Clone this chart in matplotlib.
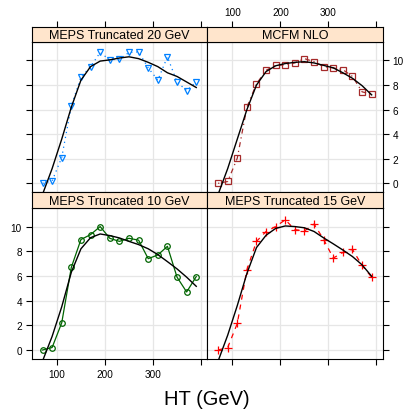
import numpy as np
import matplotlib.pyplot as plt

plt.rcParams['font.family'] = ['Liberation Sans', 'DejaVu Sans']

# HT bin centres (GeV)
ht = [70, 90, 110, 130, 150, 170, 190, 210, 230, 250, 270, 290, 310, 330, 350, 370, 390]

# points per panel
meps20 = [0.0, 0.2, 2.1, 6.3, 8.65, 9.5, 10.65, 10.05, 10.1, 10.65, 10.7, 9.4, 8.4, 10.3, 8.25, 7.55, 8.25]
mcfm = [0.0, 0.15, 2.05, 6.2, 8.1, 9.2, 9.6, 9.65, 9.8, 10.15, 9.9, 9.5, 9.4, 9.25, 8.7, 7.45, 7.25]
meps10 = [0.0, 0.2, 2.2, 6.7, 8.95, 9.35, 10.0, 9.05, 8.8, 9.05, 8.9, 7.4, 7.7, 8.4, 5.9, 4.7, 5.95]
meps15 = [0.0, 0.2, 2.15, 6.5, 8.8, 9.6, 10.0, 10.55, 9.75, 9.65, 10.2, 8.95, 7.45, 7.9, 8.15, 6.85, 5.9]

# smooth (loess) curves
fit20 = [-0.9, 1.2, 3.6, 6.2, 8.4, 9.5, 9.95, 10.05, 10.2, 10.3, 10.15, 9.85, 9.5, 9.0, 8.7, 8.25, 7.8]
fitmcfm = [-0.9, 1.2, 3.6, 6.0, 8.0, 9.1, 9.57, 9.75, 9.85, 9.9, 9.8, 9.6, 9.4, 9.0, 8.55, 7.95, 7.2]
fit10 = [-0.9, 1.1, 3.5, 6.3, 8.2, 9.1, 9.4, 9.27, 9.08, 8.8, 8.54, 8.2, 7.73, 7.16, 6.57, 5.9, 5.16]
fit15 = [-0.9, 1.2, 3.6, 6.2, 8.3, 9.3, 9.85, 10.05, 10.0, 9.9, 9.6, 9.08, 8.6, 8.1, 7.57, 6.9, 5.97]

xticks = [100, 200, 300, 400]
xticklabels = ['100', '200', '300', '']
yticks = [0, 2, 4, 6, 8, 10]

W, H = 406, 410


def rect(x0, x1, ytop, ybot):
    return [x0 / W, 1 - ybot / H, (x1 - x0) / W, (ybot - ytop) / H]


cols = [(31.7, 207.3), (207.3, 382.7)]
rows = {'top': ((27.7, 43.3), (43.3, 193.3)), 'bot': ((193.3, 209.3), (209.3, 360.0))}

# (title, row, col, points, fit, colour, marker, dashes, marker size)
panels = [
    ('MEPS Truncated 20 GeV', 'top', 0, meps20, fit20, '#0080ff', 'v', (1, 3), 5.0),
    ('MCFM NLO', 'top', 1, mcfm, fitmcfm, '#a52a2a', 's', (1, 3, 4, 3), 4.0),
    ('MEPS Truncated 10 GeV', 'bot', 0, meps10, fit10, '#006400', 'o', None, 4.0),
    ('MEPS Truncated 15 GeV', 'bot', 1, meps15, fit15, '#ff0000', '+', (4, 4), 6.0),
]

xlim = (47.5, 413)
ylim = (-0.73, 11.48)

fig = plt.figure(figsize=(4.06, 4.10), dpi=100)

for title, row, col, pts, fit, colr, mk, dash, ms in panels:
    (st, sb), (bt, bb) = rows[row]
    x0, x1 = cols[col]
    ax = fig.add_axes(rect(x0, x1, bt, bb))
    sx = fig.add_axes(rect(x0, x1, st, sb))

    ax.set_xlim(*xlim)
    ax.set_ylim(*ylim)
    for v in xticks:
        ax.axvline(v, color='#e6e6e6', lw=0.9, zorder=0)
    for v in yticks:
        ax.axhline(v, color='#e6e6e6', lw=0.9, zorder=0)

    line, = ax.plot(ht, pts, color=colr, lw=0.9, marker=mk, ms=ms,
                    mfc='none', mec=colr, mew=0.9, zorder=3)
    if dash is not None:
        line.set_dashes(dash)
    ax.plot(ht, fit, color='black', lw=1.0, zorder=4)

    ax.set_xticks(xticks)
    ax.set_yticks(yticks)
    ax.tick_params(labelsize=7.2, direction='out', length=4.5, width=0.8, pad=2.5)
    ax.tick_params(bottom=False, top=False, left=False, right=False,
                   labelbottom=False, labeltop=False, labelleft=False, labelright=False)
    if col == 0:
        ax.tick_params(left=True, labelleft=(row == 'bot'))
    else:
        ax.tick_params(right=True, labelright=(row == 'top'))
    if row == 'bot':
        ax.tick_params(bottom=True, labelbottom=(col == 0))
        ax.set_xticklabels(xticklabels)

    # strip
    sx.set_facecolor('#ffe5cc')
    sx.set_xlim(*xlim)
    sx.set_yticks([])
    sx.text(0.5, 0.45, title, transform=sx.transAxes, ha='center', va='center', fontsize=9)
    if row == 'top':
        sx.set_xticks(xticks)
        sx.set_xticklabels(xticklabels)
        sx.tick_params(axis='x', labelsize=7.2, direction='out', length=4.5, width=0.8, pad=2.5,
                       bottom=False, labelbottom=False, top=True, labeltop=(col == 1))
    else:
        sx.set_xticks([])

    for a in (ax, sx):
        for s in a.spines.values():
            s.set_linewidth(0.8)

fig.text(207 / W, 1 - 400 / H, 'HT (GeV)', ha='center', va='center', fontsize=14.5)

fig.savefig('out.png', dpi=100)
